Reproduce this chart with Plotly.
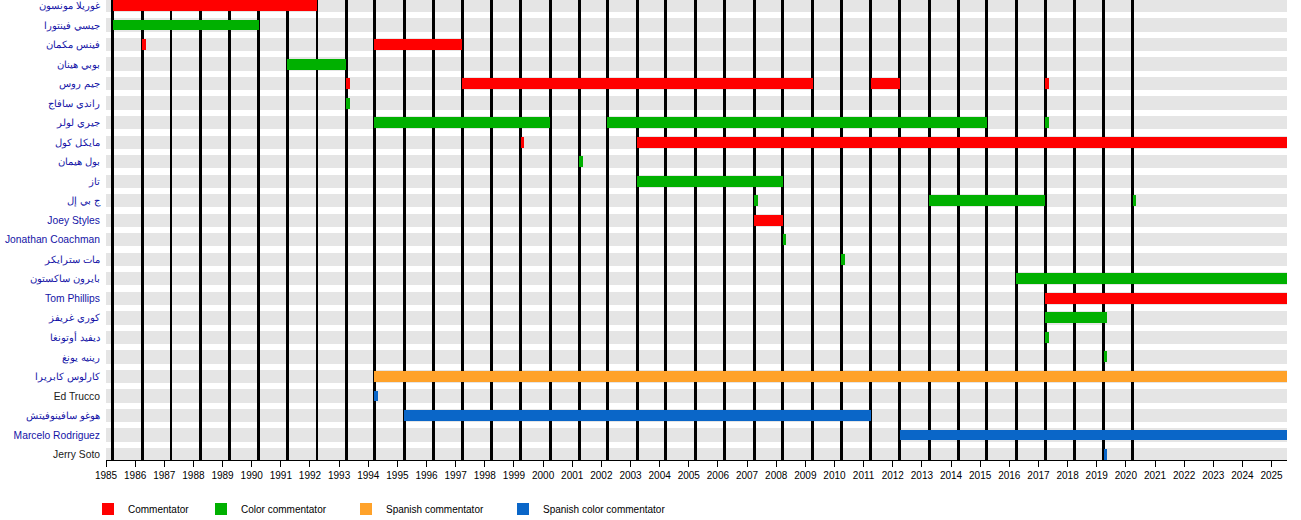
import plotly.graph_objects as go

# ---------------- data ----------------
names = [
    "غوريلا مونسون", "جيسي فينتورا", "فينس مكمان", "بوبي هينان", "جيم روس",
    "راندي سافاج", "جيري لولر", "مايكل كول", "بول هيمان", "تاز",
    "ج بي إل", "Joey Styles", "Jonathan Coachman", "مات سترايكر", "بايرون ساكستون",
    "Tom Phillips", "كوري غريفز", "ديفيد أوتونغا", "رينيه يونغ", "كارلوس كابريرا",
    "Ed Trucco", "هوغو سافينوفيتش", "Marcelo Rodriguez", "Jerry Soto",
]
linked = [True] * 20 + [False, True, True, False]

period_start = 1985.0
period_end = 2025.53
year_ticks = list(range(1985, 2026))

# WrestleMania event dates (vertical black lines)
event_dates = [1985.23, 1986.24, 1987.23, 1988.23, 1989.24, 1990.24, 1991.22, 1992.24,
               1993.24, 1994.21, 1995.24, 1996.24, 1997.22, 1998.23, 1999.23, 2000.24,
               2001.24, 2002.20, 2003.23, 2004.20, 2005.24, 2006.24, 2007.24, 2008.23,
               2009.25, 2010.23, 2011.24, 2012.24, 2013.25, 2014.25, 2015.23, 2016.24,
               2017.24, 2018.25, 2019.24, 2020.24]

# Commentator
comm_rows = [1, 3, 3, 5, 5, 5, 5, 8, 8, 12, 16]
comm_start = [1985.23, 1986.24, 1994.21, 1993.24, 1997.22, 2011.24, 2017.24, 1999.23, 2003.23, 2007.24, 2017.24]
comm_end = [1992.24, 1986.36, 1997.22, 1993.36, 2009.25, 2012.24, 2017.36, 1999.35, 2025.53, 2008.23, 2025.53]

# Color commentator
color_rows = [2, 4, 6, 7, 7, 7, 9, 10, 11, 11, 11, 13, 14, 15, 17, 18, 19]
color_start = [1985.23, 1991.22, 1993.24, 1994.21, 2002.20, 2017.24, 2001.24, 2003.23, 2007.24,
               2013.25, 2020.24, 2008.23, 2010.23, 2016.24, 2017.24, 2017.24, 2019.24]
color_end = [1990.24, 1993.24, 1993.36, 2000.24, 2015.23, 2017.36, 2001.36, 2008.23, 2007.36,
             2017.24, 2020.36, 2008.35, 2010.35, 2025.53, 2019.36, 2017.36, 2019.36]

# Spanish commentator
sp_rows = [20]
sp_start = [1994.21]
sp_end = [2025.53]

# Spanish color commentator
spc_rows = [21, 22, 23, 24]
spc_start = [1994.21, 1995.24, 2012.24, 2019.24]
spc_end = [1994.33, 2011.24, 2025.53, 2019.36]

roles = [
    ("Commentator", "#ff0000", comm_rows, comm_start, comm_end),
    ("Color commentator", "#00b000", color_rows, color_start, color_end),
    ("Spanish commentator", "#ffa22a", sp_rows, sp_start, sp_end),
    ("Spanish color commentator", "#0a66c8", spc_rows, spc_start, spc_end),
]
legend_x = [88, 201, 346, 503]  # container pixels of each legend entry

# ---------------- figure ----------------
FONT = "Liberation Sans, Arial, sans-serif"
W, H = 1301, 520
n = len(names)
row_idx = list(range(1, n + 1))
y_top, y_bottom = 0.718, n + 0.28

fig = go.Figure()

# background bands for every row
fig.add_trace(go.Bar(
    orientation="h", y=row_idx, base=[period_start] * n,
    x=[period_end - period_start] * n, width=0.68,
    marker=dict(color="#e5e5e5", line=dict(width=0)),
    showlegend=False, hoverinfo="skip",
))

# vertical event lines
fig.add_trace(go.Bar(
    orientation="v", x=event_dates, base=[y_top] * len(event_dates),
    y=[y_bottom - y_top] * len(event_dates), width=0.1,
    marker=dict(color="#000000", line=dict(width=0)),
    showlegend=False, hoverinfo="skip",
))

legends = {}
for i, (name, col, rows, starts, ends) in enumerate(roles):
    key = "legend" if i == 0 else f"legend{i + 1}"
    fig.add_trace(go.Bar(
        orientation="h", name=name, y=rows, base=starts,
        x=[e - s for s, e in zip(starts, ends)], width=0.56,
        marker=dict(color=col, line=dict(width=0)),
        legend=key,
    ))
    legends[key] = dict(
        orientation="h", xref="container", yref="container",
        x=legend_x[i] / W, xanchor="left", y=1 - 509 / H, yanchor="middle",
        font=dict(size=10, color="black", family=FONT),
        bgcolor="rgba(0,0,0,0)", borderwidth=0,
    )

ticktext = [
    f'<span style="color:{"#1414a6" if l else "#202020"}">{t}</span>'
    for t, l in zip(names, linked)
]

fig.update_layout(
    width=W, height=H,
    margin=dict(l=106, r=14, t=0, b=60, autoexpand=False),
    paper_bgcolor="white", plot_bgcolor="white",
    barmode="overlay", bargap=0,
    font=dict(family=FONT, size=10, color="black"),
    xaxis=dict(
        range=[period_start, period_end], tickvals=year_ticks,
        ticktext=[str(y) for y in year_ticks], automargin=False,
        showgrid=False, zeroline=False, showline=True, linecolor="black", linewidth=1,
        ticks="outside", ticklen=6, tickcolor="black", tickwidth=1,
        tickfont=dict(size=10, color="black", family=FONT),
    ),
    yaxis=dict(
        range=[y_bottom, y_top], tickvals=row_idx, ticktext=ticktext,
        automargin=False, ticklabelstandoff=5,
        showgrid=False, zeroline=False, showline=False, ticks="",
        tickfont=dict(size=10.3, family=FONT),
    ),
    **legends,
)

fig.write_html(
    "out.html",
    config={"displayModeBar": False},
    post_script="document.body.style.margin='0';document.body.style.overflow='hidden';",
)
